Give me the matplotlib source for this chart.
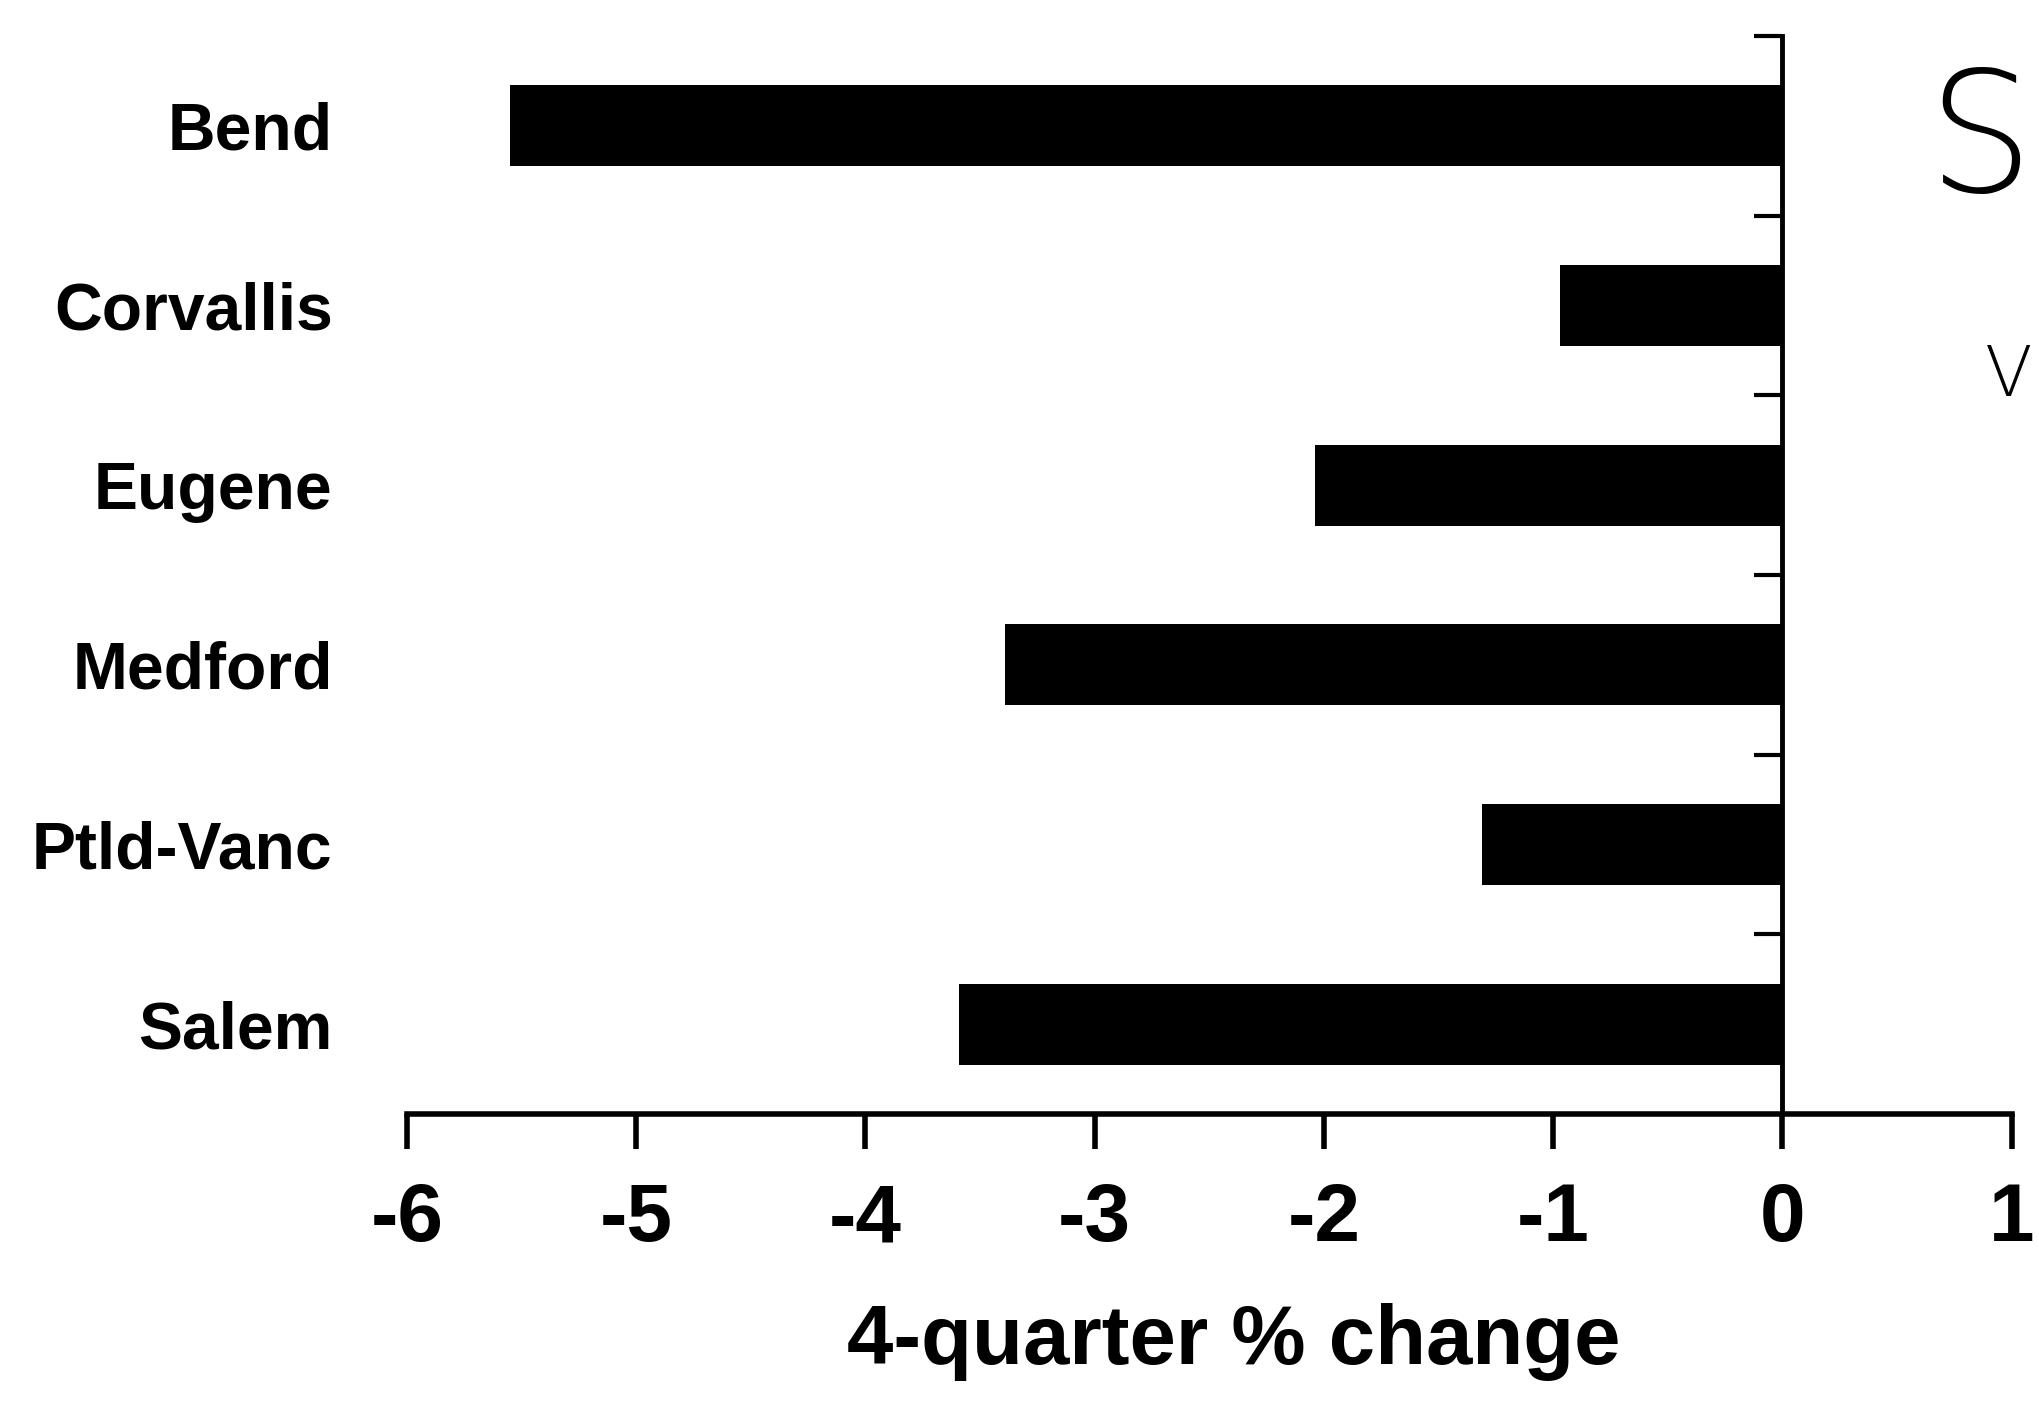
import matplotlib
matplotlib.use("Agg")
import matplotlib.pyplot as plt
from matplotlib.ticker import FixedLocator

cities = ["Bend", "Corvallis", "Eugene", "Medford", "Ptld-Vanc", "Salem"]
pct_change = [-5.55, -0.97, -2.04, -3.39, -1.31, -3.59]
x_ticks = [-6, -5, -4, -3, -2, -1, 0, 1]

plt.rcParams["font.family"] = ["Liberation Sans", "DejaVu Sans"]

fig = plt.figure(figsize=(20.39, 14.14), dpi=100)
ax = fig.add_axes([0.1996, 0.2122, 0.787, 0.7623])

# move the vertical axis line to zero first (this resets the ticks)
ax.spines["left"].set_visible(False)
ax.spines["top"].set_visible(False)
ax.spines["right"].set_position(("data", 0))
ax.spines["right"].set_linewidth(3.5)

ypos = list(range(len(cities)))
ax.barh(ypos, pct_change, height=0.45, color="black")

ax.set_xlim(-6, 1)
ax.set_ylim(len(cities) - 0.5, -0.5)

# x axis
ax.set_xticks(x_ticks)
ax.set_xticklabels([str(t) for t in x_ticks], fontsize=59, fontweight="bold")
ax.tick_params(axis="x", direction="out", length=25, width=4, pad=24)
ax.spines["bottom"].set_linewidth(4)

# category labels on the left
ax.set_yticks(ypos)
ax.set_yticklabels(cities, fontsize=47.5, fontweight="bold")
ax.tick_params(axis="y", which="major", left=False, right=False, pad=50)
ax.yaxis.set_minor_locator(FixedLocator([i - 0.5 for i in range(len(cities))]))
ax.tick_params(axis="y", which="minor", left=False, right=True,
               direction="in", length=20, width=3)

ax.set_xlabel("4-quarter % change", fontsize=60, fontweight="bold")
ax.xaxis.set_label_coords(0.515, -0.175)

# handwritten marks at the right edge
fig.text(0.997, 0.84, "S", fontsize=120, fontweight="light", family="DejaVu Sans",
         color="black", ha="right", va="bottom")
fig.text(0.997, 0.71, "V", fontsize=50, fontweight="light", family="DejaVu Sans",
         color="black", ha="right", va="bottom")

fig.savefig("out.png", dpi=100)
